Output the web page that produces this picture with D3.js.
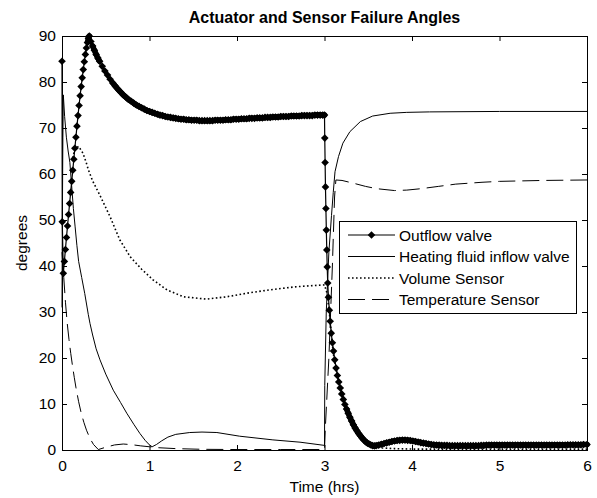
<!DOCTYPE html>
<html>
<head>
<meta charset="utf-8">
<title>Actuator and Sensor Failure Angles</title>
<script src="https://d3js.org/d3.v7.min.js"></script>
<style>
  body { margin:0; background:#fff; }
  svg { display:block; font-family:"Liberation Sans", Arial, sans-serif; }
</style>
</head>
<body>
<div id="chart"></div>
<script>
const xTicks = [0, 1, 2, 3, 4, 5, 6];
const yTicks = [0, 10, 20, 30, 40, 50, 60, 70, 80, 90];
const seriesNames = ["Outflow valve", "Heating fluid inflow valve", "Volume Sensor", "Temperature Sensor"];

// [time (hrs), degrees]
const outflowValve = [
  [0,84.5],[0.003,49.6],[0.015,38.4],[0.027,41.0],[0.039,43.6],[0.051,46.2],[0.063,48.7],[0.075,51.2],
  [0.087,53.6],[0.099,56.0],[0.111,58.4],[0.123,60.8],[0.135,63.2],[0.147,65.6],[0.159,68.0],[0.171,70.4],
  [0.183,72.7],[0.195,74.9],[0.207,77.0],[0.219,79.0],[0.231,80.9],[0.243,82.7],[0.255,84.4],[0.267,86.0],
  [0.279,87.4],[0.291,88.6],[0.302,89.5],[0.312,90.0],
  [0.33,88.8],[0.35,87.8],[0.37,86.9],[0.39,86.0],[0.41,85.2],[0.43,84.5],[0.46,83.4],[0.49,82.4],
  [0.52,81.5],[0.55,80.6],[0.58,79.8],[0.61,79.1],[0.64,78.4],[0.67,77.8],[0.70,77.2],[0.73,76.7],
  [0.76,76.2],[0.79,75.8],[0.82,75.4],[0.85,75.0],[0.88,74.7],[0.91,74.4],[0.94,74.1],[0.97,73.8],
  [1.00,73.6],[1.03,73.4],[1.06,73.2],[1.09,73.0],[1.12,72.8],[1.15,72.7],[1.18,72.5],[1.21,72.4],
  [1.24,72.3],[1.27,72.2],[1.30,72.1],[1.33,72.0],[1.36,71.9],[1.39,71.9],[1.42,71.8],[1.45,71.8],
  [1.48,71.7],[1.51,71.7],[1.54,71.7],[1.57,71.6],[1.60,71.6],[1.63,71.6],[1.66,71.6],[1.69,71.6],
  [1.72,71.6],[1.75,71.7],[1.78,71.7],[1.81,71.7],[1.84,71.7],[1.87,71.8],[1.90,71.8],[1.93,71.8],
  [1.96,71.9],[1.99,71.9],[2.02,71.9],[2.05,72.0],[2.08,72.0],[2.11,72.0],[2.14,72.1],[2.17,72.1],
  [2.20,72.1],[2.23,72.2],[2.26,72.2],[2.29,72.2],[2.32,72.3],[2.35,72.3],[2.38,72.3],[2.41,72.4],
  [2.44,72.4],[2.47,72.4],[2.50,72.5],[2.53,72.5],[2.56,72.5],[2.59,72.5],[2.62,72.6],[2.65,72.6],
  [2.68,72.6],[2.71,72.6],[2.74,72.7],[2.77,72.7],[2.80,72.7],[2.83,72.7],[2.86,72.7],[2.89,72.8],
  [2.92,72.8],[2.95,72.8],[2.98,72.8],[3.00,72.8],
  [3.003,67.8],[3.007,62.5],[3.011,57.2],[3.016,52.5],[3.021,47.8],[3.026,43.5],[3.031,39.8],[3.037,36.3],
  [3.045,33.2],[3.055,30.4],[3.065,28.0],[3.077,25.4],[3.09,23.3],[3.103,21.5],[3.117,19.6],[3.132,17.8],
  [3.147,16.2],[3.163,14.8],[3.18,13.5],[3.197,12.2],[3.215,11.0],[3.233,9.9],[3.252,8.9],[3.271,8.0],
  [3.29,7.1],[3.31,6.3],[3.33,5.5],[3.35,4.8],[3.37,4.2],[3.39,3.6],[3.41,3.1],[3.43,2.6],
  [3.45,2.2],[3.47,1.8],[3.49,1.5],[3.51,1.3],[3.53,1.1],[3.55,0.95],[3.57,0.9],[3.59,0.95],
  [3.62,1.1],[3.65,1.25],[3.68,1.4],[3.71,1.55],[3.74,1.7],[3.77,1.85],[3.80,1.95],[3.83,2.05],
  [3.86,2.1],[3.89,2.15],[3.92,2.15],[3.95,2.1],[3.98,2.05],[4.01,1.95],[4.04,1.85],[4.07,1.75],
  [4.10,1.6],[4.13,1.5],[4.16,1.4],[4.19,1.3],[4.22,1.2],[4.25,1.15],[4.28,1.1],[4.31,1.05],
  [4.34,1.0],[4.37,1.0],[4.40,1.0],[4.43,0.95],[4.46,0.95],[4.49,0.95],[4.52,0.95],[4.55,0.95],
  [4.58,0.95],[4.61,0.95],[4.64,0.95],[4.67,0.95],[4.70,0.95],[4.73,0.95],[4.76,0.95],[4.79,1.0],
  [4.82,1.0],[4.85,1.05],[4.88,1.1],[4.91,1.1],[4.94,1.1],[4.97,1.1],[5.00,1.1],[5.03,1.1],
  [5.06,1.1],[5.09,1.1],[5.12,1.1],[5.15,1.1],[5.18,1.1],[5.21,1.1],[5.24,1.1],[5.27,1.1],
  [5.30,1.1],[5.33,1.1],[5.36,1.1],[5.39,1.1],[5.42,1.1],[5.45,1.1],[5.48,1.1],[5.51,1.1],
  [5.54,1.1],[5.57,1.1],[5.60,1.1],[5.63,1.1],[5.66,1.1],[5.69,1.1],[5.72,1.1],[5.75,1.1],
  [5.78,1.15],[5.81,1.15],[5.84,1.15],[5.87,1.15],[5.90,1.15],[5.93,1.15],[5.96,1.2],[6.00,1.2]
];

const heatingValve = [
  [0,31],[0.004,50],[0.01,68],[0.015,77.2],[0.03,72.5],[0.05,68],[0.07,65],[0.09,62.5],
  [0.11,57.5],[0.13,52.5],[0.15,48.5],[0.17,44.5],[0.19,41],[0.225,37.5],[0.26,34],[0.3,29.5],
  [0.32,27.5],[0.35,25],[0.39,22],[0.434,19.6],[0.5,16.5],[0.586,13],[0.67,10.3],[0.74,8],
  [0.82,5.6],[0.89,3.6],[0.95,2.1],[1.0,1.1],[1.03,0.7],[1.08,1.2],[1.14,2.0],[1.21,2.8],
  [1.3,3.4],[1.46,3.8],[1.6,3.9],[1.77,3.8],[2.03,3.0],[2.41,2.2],[2.72,1.7],[3.0,1.0],
  [3.003,14],[3.02,30],[3.05,43],[3.08,51],[3.1,56],[3.12,60.5],[3.16,63.8],[3.21,66.7],
  [3.29,69.2],[3.41,71.4],[3.55,72.6],[3.75,73.2],[3.94,73.4],[4.2,73.5],[5.0,73.6],[6.0,73.6]
];

const volumeSensor = [
  [0.12,63.5],[0.15,65.5],[0.19,66],[0.24,64.5],[0.28,62.3],[0.3,61],[0.35,58.5],[0.43,55.5],
  [0.55,50.7],[0.66,45.7],[0.78,42],[0.91,39.3],[1.04,37],[1.2,34.8],[1.39,33.3],[1.65,32.8],
  [1.88,33.3],[2.15,34.2],[2.41,34.9],[2.68,35.5],[3.0,35.9],[3.03,34],[3.06,29],[3.1,21],
  [3.15,16],[3.2,12],[3.3,6.5],[3.4,3.2],[3.5,1.3],[3.6,0.5],[3.8,0.3],[4.0,0.2],[6.0,0.2]
];

const temperatureSensor = [
  [0,43],[0.02,37.5],[0.04,32],[0.06,27.5],[0.08,24],[0.1,21],[0.12,18.3],[0.14,15.8],
  [0.16,13.5],[0.19,10.5],[0.22,8],[0.25,6],[0.28,4.3],[0.32,2.5],[0.36,1.2],[0.415,0.1],
  [0.5,0.6],[0.6,1.1],[0.7,1.3],[0.8,1.15],[0.9,0.9],[1.0,0.7],[1.1,0.5],[1.3,0.3],
  [1.6,0.15],[2.0,0.1],[2.5,0.1],[3.0,0.1],[3.01,5],[3.05,20],[3.09,40],[3.115,55],
  [3.13,58.7],[3.2,58.6],[3.33,58.0],[3.47,57.3],[3.6,56.8],[3.8,56.4],[3.94,56.5],[4.1,56.8],
  [4.3,57.3],[4.5,57.8],[4.8,58.2],[5.0,58.4],[5.5,58.6],[6.0,58.7]
];

const svgWidth = 597;
const svgHeight = 498;
const plot = {left: 62, right: 587, top: 36, bottom: 450};

const svg = d3.select("#chart")
  .append("svg")
  .attr("width", svgWidth)
  .attr("height", svgHeight);

const xScale = d3.scaleLinear().domain([0, 6]).range([plot.left, plot.right]);
const yScale = d3.scaleLinear().domain([0, 90]).range([plot.bottom, plot.top]);

const line = d3.line().x(d => xScale(d[0])).y(d => yScale(d[1]));
const diamond = "M0,-3.8L3.8,0L0,3.8L-3.8,0Z";

// axes, ticks pointing inwards like matlab
const xAxis = d3.axisBottom(xScale).tickValues(xTicks).tickFormat(d3.format("d"))
  .tickSizeInner(-5).tickSizeOuter(0).tickPadding(10);
const yAxis = d3.axisLeft(yScale).tickValues(yTicks).tickFormat(d3.format("d"))
  .tickSizeInner(-5).tickSizeOuter(0).tickPadding(6);
const xTop = d3.axisTop(xScale).tickValues(xTicks).tickSizeInner(-5).tickSizeOuter(0).tickFormat("");
const yRight = d3.axisRight(yScale).tickValues(yTicks).tickSizeInner(-5).tickSizeOuter(0).tickFormat("");

svg.append("g").attr("transform", "translate(0," + plot.bottom + ")").call(xAxis);
svg.append("g").attr("transform", "translate(" + plot.left + ",0)").call(yAxis);
svg.append("g").attr("transform", "translate(0," + plot.top + ")").call(xTop);
svg.append("g").attr("transform", "translate(" + plot.right + ",0)").call(yRight);
svg.selectAll(".domain").remove();
svg.selectAll(".tick line").attr("stroke", "#000");
svg.selectAll(".tick text")
  .attr("fill", "#000")
  .style("font-size", "15.5px")
  .style("font-family", "'Liberation Sans', Arial, sans-serif");

svg.append("rect")
  .attr("x", plot.left + 0.5)
  .attr("y", plot.top + 0.5)
  .attr("width", plot.right - plot.left)
  .attr("height", plot.bottom - plot.top)
  .attr("fill", "none")
  .attr("stroke", "#000");

// series
svg.append("path").datum(heatingValve)
  .attr("d", line).attr("fill", "none").attr("stroke", "#000").attr("stroke-width", 1);
svg.append("path").datum(volumeSensor)
  .attr("d", line).attr("fill", "none").attr("stroke", "#000").attr("stroke-width", 1.6)
  .attr("stroke-dasharray", "1.6,2.4");
svg.append("path").datum(temperatureSensor)
  .attr("d", line).attr("fill", "none").attr("stroke", "#000").attr("stroke-width", 1)
  .attr("stroke-dasharray", "17,7");

// outflow: where the diamonds sit close together they merge into a solid band
const outflowSegs = d3.pairs(outflowValve);
svg.append("g").selectAll("line")
  .data(outflowSegs)
  .enter()
  .append("line")
  .attr("x1", d => xScale(d[0][0]))
  .attr("y1", d => yScale(d[0][1]))
  .attr("x2", d => xScale(d[1][0]))
  .attr("y2", d => yScale(d[1][1]))
  .attr("stroke", "#000")
  .attr("stroke-linecap", "round")
  .attr("stroke-width", d => {
    const dx = xScale(d[1][0]) - xScale(d[0][0]);
    const dy = yScale(d[1][1]) - yScale(d[0][1]);
    return Math.hypot(dx, dy) < 4.5 ? 5.5 : 1.2;
  });
svg.append("g").selectAll("path")
  .data(outflowValve)
  .enter()
  .append("path")
  .attr("d", diamond)
  .attr("transform", d => "translate(" + xScale(d[0]) + "," + yScale(d[1]) + ")")
  .attr("fill", "#000");

// labels
svg.append("text")
  .attr("x", (plot.left + plot.right) / 2)
  .attr("y", 23)
  .attr("text-anchor", "middle")
  .style("font-size", "16px")
  .style("font-weight", "bold")
  .text("Actuator and Sensor Failure Angles");

svg.append("text")
  .attr("x", (plot.left + plot.right) / 2)
  .attr("y", 492)
  .attr("text-anchor", "middle")
  .style("font-size", "15.5px")
  .text("Time (hrs)");

svg.append("text")
  .attr("transform", "translate(27," + (plot.top + plot.bottom) / 2 + ") rotate(-90)")
  .attr("text-anchor", "middle")
  .style("font-size", "15.5px")
  .text("degrees");

// legend
const legend = svg.append("g").attr("transform", "translate(339,221)");
legend.append("rect")
  .attr("x", 0.5).attr("y", 0.5)
  .attr("width", 237).attr("height", 92)
  .attr("fill", "#fff").attr("stroke", "#000");

const styles = [
  {dash: null, width: 1.2, marker: true},
  {dash: null, width: 1, marker: false},
  {dash: "1.6,2.4", width: 1.6, marker: false},
  {dash: "17,7", width: 1, marker: false}
];

seriesNames.forEach((name, i) => {
  const ly = 14 + i * 21.5;
  legend.append("line")
    .attr("x1", 9).attr("x2", 56)
    .attr("y1", ly).attr("y2", ly)
    .attr("stroke", "#000")
    .attr("stroke-width", styles[i].width)
    .attr("stroke-dasharray", styles[i].dash);
  if (styles[i].marker) {
    legend.append("path").attr("d", diamond)
      .attr("transform", "translate(32.5," + ly + ")");
  }
  legend.append("text")
    .attr("x", 60)
    .attr("y", ly)
    .attr("dy", "0.36em")
    .style("font-size", "15.5px")
    .text(name);
});
</script>
</body>
</html>
